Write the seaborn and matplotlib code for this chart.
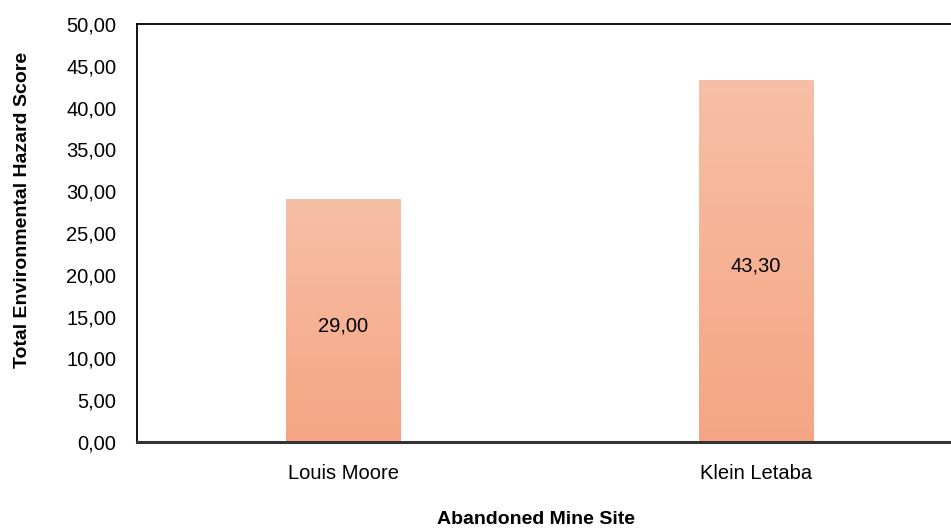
import numpy as np
import pandas as pd
import matplotlib
matplotlib.use("Agg")
import matplotlib.pyplot as plt
import seaborn as sns
from matplotlib.colors import LinearSegmentedColormap

sites = ["Louis Moore", "Klein Letaba"]
scores = [29.00, 43.30]
y_ticks = [0, 5, 10, 15, 20, 25, 30, 35, 40, 45, 50]

sns.set_theme(style="white")
plt.rcParams["font.family"] = ["Liberation Sans", "DejaVu Sans"]

df = pd.DataFrame({"site": sites, "score": scores})

fig = plt.figure(figsize=(9.51, 5.31), dpi=100)
ax = fig.add_axes([0.1441, 0.1676, 1.0116 - 0.1441, 0.9548 - 0.1676])

sns.barplot(data=df, x="site", y="score", color="#F6B090", width=0.277,
            ax=ax, errorbar=None, saturation=1)

# vertical peach gradient inside each bar
grad_cmap = LinearSegmentedColormap.from_list("peach", ["#F5A583", "#F7BFA6"])
grad = np.linspace(0, 1, 256).reshape(-1, 1)
for patch in ax.patches:
    x0, w, h = patch.get_x(), patch.get_width(), patch.get_height()
    ax.imshow(grad, cmap=grad_cmap, aspect="auto", origin="lower",
              extent=[x0, x0 + w, 0, h], zorder=2)
    patch.set_visible(False)

for i, v in enumerate(scores):
    ax.annotate(f"{v:.2f}".replace(".", ","), xy=(i, v / 2),
                xytext=(0, -3.5), textcoords="offset points",
                ha="center", va="center", fontsize=14.5, color="black",
                zorder=3)

ax.set_xlim(-0.5, 1.5)
ax.set_ylim(0, 50)
ax.set_yticks(y_ticks)
ax.set_yticklabels([f"{t:.2f}".replace(".", ",") for t in y_ticks])
ax.tick_params(axis="y", length=0, pad=15, labelsize=14.5, labelcolor="black")
ax.tick_params(axis="x", length=0, pad=16, labelsize=14.5, labelcolor="black")

ax.set_xlabel("Abandoned Mine Site", fontsize=14, fontweight="bold",
              color="black")
ax.set_ylabel("Total Environmental Hazard Score", fontsize=14,
              fontweight="bold", color="black")
ax.xaxis.set_label_coords((536 - 137) / (962 - 137), -(511 - 442) / 418)
ax.yaxis.set_label_coords(-(137 - 31) / (962 - 137), (442 - 210) / 418)

ax.spines["right"].set_visible(False)
for side in ["left", "top"]:
    ax.spines[side].set_color("black")
    ax.spines[side].set_linewidth(1.3)
ax.spines["bottom"].set_color("#333333")
ax.spines["bottom"].set_linewidth(2.2)

fig.savefig("out.png", dpi=100)
